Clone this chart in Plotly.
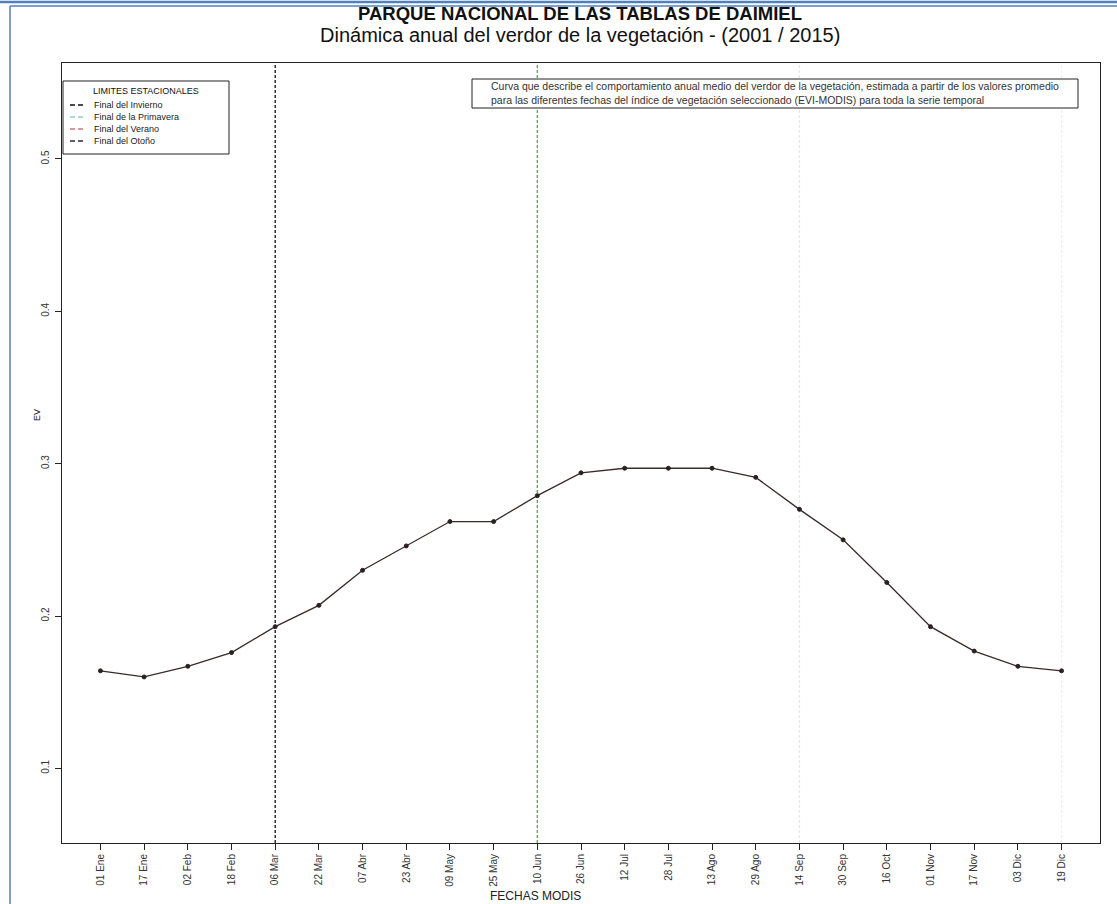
import plotly.graph_objects as go

# ---------------- data ----------------
fechas = ["01 Ene", "17 Ene", "02 Feb", "18 Feb", "06 Mar", "22 Mar", "07 Abr", "23 Abr",
          "09 May", "25 May", "10 Jun", "26 Jun", "12 Jul", "28 Jul", "13 Ago", "29 Ago",
          "14 Sep", "30 Sep", "16 Oct", "01 Nov", "17 Nov", "03 Dic", "19 Dic"]
ev = [0.164, 0.160, 0.167, 0.176, 0.193, 0.207, 0.230, 0.246,
      0.262, 0.262, 0.279, 0.294, 0.297, 0.297, 0.297, 0.291,
      0.270, 0.250, 0.222, 0.193, 0.177, 0.167, 0.164]
y_ticks = [0.1, 0.2, 0.3, 0.4, 0.5]
limites_nombres = ["Final del Invierno", "Final de la Primavera", "Final del Verano", "Final del Otoño"]
limites_fechas = ["06 Mar", "10 Jun", "14 Sep", "19 Dic"]
limites_colores_plot = ["#111111", "#5aa64e", "#f3e2e6", "#eeeeee"]
limites_colores_leyenda = ["#111111", "#8fd3bd", "#d9707f", "#2a2a45"]

titulo1 = "PARQUE NACIONAL DE LAS TABLAS DE DAIMIEL"
titulo2 = "Dinámica anual del verdor de la vegetación - (2001 / 2015)"
nota1 = "Curva que describe el comportamiento anual medio del verdor de la vegetación, estimada a partir de los valores promedio"
nota2 = "para las diferentes fechas del índice de vegetación seleccionado (EVI-MODIS) para toda la serie temporal"

# ---------------- layout helpers ----------------
W, H = 1117, 904
L, R, T, B = 62, 1100, 63, 843
FONT = "Liberation Sans, Arial, sans-serif"


def px(x):
    return (x - L) / (R - L)


def py(y):
    return (B - y) / (B - T)


x_idx = list(range(len(fechas)))
y_range = [0.051, 0.563]

fig = go.Figure()

# seasonal limit lines
for nombre, f, c in zip(limites_nombres, limites_fechas, limites_colores_plot):
    i = fechas.index(f)
    fig.add_trace(go.Scatter(x=[i, i], y=y_range, mode="lines",
                             line=dict(color=c, width=1.3, dash="3px,2px"),
                             showlegend=False, hoverinfo="skip"))

# EV curve
fig.add_trace(go.Scatter(x=x_idx, y=ev, mode="lines+markers",
                         line=dict(color="#3a2a2a", width=1.3),
                         marker=dict(size=4, color="#2a2020", line=dict(color="#2a2020", width=1)),
                         showlegend=False))

shapes = []
annotations = []

# blue page border
blue = "#4f81bd"
shapes.append(dict(type="line", xref="paper", yref="paper", x0=px(0), x1=px(W), y0=py(2), y1=py(2),
                   line=dict(color=blue, width=2.5)))
shapes.append(dict(type="line", xref="paper", yref="paper", x0=px(10), x1=px(W), y0=py(6), y1=py(6),
                   line=dict(color=blue, width=1.5)))
shapes.append(dict(type="line", xref="paper", yref="paper", x0=px(10), x1=px(10), y0=py(6), y1=py(H),
                   line=dict(color=blue, width=1.5)))

# titles
annotations.append(dict(text="<b>" + titulo1 + "</b>", xref="paper", yref="paper", x=px(580), y=py(13),
                        showarrow=False, font=dict(family=FONT, size=18.5, color="#111111"),
                        xanchor="center", yanchor="middle"))
annotations.append(dict(text=titulo2, xref="paper", yref="paper", x=px(580), y=py(35),
                        showarrow=False, font=dict(family=FONT, size=20, color="#111111"),
                        xanchor="center", yanchor="middle"))

# legend box
shapes.append(dict(type="rect", xref="paper", yref="paper", x0=px(63), x1=px(229), y0=py(81), y1=py(154),
                   line=dict(color="#222222", width=1), fillcolor="white"))
annotations.append(dict(text="LIMITES ESTACIONALES", xref="paper", yref="paper", x=px(146), y=py(91),
                        showarrow=False, font=dict(family=FONT, size=9, color="#111111"),
                        xanchor="center", yanchor="middle"))
for k, (nombre, c) in enumerate(zip(limites_nombres, limites_colores_leyenda)):
    yy = 105 + k * 12
    shapes.append(dict(type="line", xref="paper", yref="paper", x0=px(70), x1=px(86), y0=py(yy), y1=py(yy),
                       line=dict(color=c, width=1.5, dash="5px,3px")))
    annotations.append(dict(text=nombre, xref="paper", yref="paper", x=px(92), y=py(yy),
                            showarrow=False, font=dict(family=FONT, size=9, color="#222222"),
                            xanchor="left", yanchor="middle"))

# note box
shapes.append(dict(type="rect", xref="paper", yref="paper", x0=px(472), x1=px(1078), y0=py(79), y1=py(108),
                   line=dict(color="#222222", width=1), fillcolor="white"))
annotations.append(dict(text=nota1 + "<br>" + nota2, xref="paper", yref="paper", x=px(489), y=py(93.5),
                        showarrow=False, align="left", font=dict(family=FONT, size=10.5, color="#333333"),
                        xanchor="left", yanchor="middle"))

# axis titles
annotations.append(dict(text="FECHAS MODIS", xref="paper", yref="paper", x=px(535), y=py(896),
                        showarrow=False, font=dict(family=FONT, size=12, color="#222222"),
                        xanchor="center", yanchor="middle"))
annotations.append(dict(text="EV", xref="paper", yref="paper", x=px(37), y=py(415), textangle=-90,
                        showarrow=False, font=dict(family=FONT, size=9, color="#222222"),
                        xanchor="center", yanchor="middle"))

fig.update_layout(
    width=W, height=H,
    margin=dict(l=L, r=W - R, t=T, b=H - B, pad=0),
    paper_bgcolor="white", plot_bgcolor="white",
    shapes=shapes, annotations=annotations,
    showlegend=False,
    xaxis=dict(range=[-0.88, len(fechas) - 1 + 0.88], tickmode="array", tickvals=x_idx, ticktext=fechas,
               tickangle=-90, ticks="outside", ticklen=6, tickcolor="#222222",
               tickfont=dict(family=FONT, size=10, color="#333333"),
               showline=True, linecolor="#222222", linewidth=1, mirror=True,
               showgrid=False, zeroline=False),
    yaxis=dict(range=y_range, tickmode="array", tickvals=y_ticks, ticktext=[str(v) for v in y_ticks],
               tickangle=-90, ticks="outside", ticklen=6, tickcolor="#222222",
               tickfont=dict(family=FONT, size=10, color="#333333"), ticklabelstandoff=2,
               showline=True, linecolor="#222222", linewidth=1, mirror=True,
               showgrid=False, zeroline=False),
)

fig.write_html("out.html", config={"displayModeBar": False},
               post_script="document.body.style.margin='0';document.body.style.overflow='hidden';")
